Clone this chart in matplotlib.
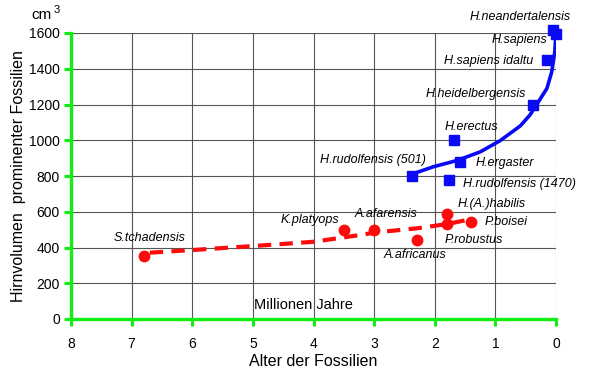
import numpy as np
import matplotlib.pyplot as plt

plt.rcParams['font.family'] = ['Liberation Sans', 'DejaVu Sans']

# ============================================
# DATA
# ============================================
homo_names = ["H.neandertalensis", "H.sapiens", "H.sapiens idaltu",
              "H.heidelbergensis", "H.erectus", "H.ergaster",
              "H.rudolfensis (501)", "H.rudolfensis (1470)"]
homo_age = [0.05, 0.0, 0.15, 0.38, 1.68, 1.58, 2.38, 1.77]
homo_vol = [1615, 1595, 1450, 1200, 1000, 880, 800, 775]

austr_names = ["S.tchadensis", "K.platyops", "A.afarensis", "A.africanus",
               "H.(A.)habilis", "P.robustus", "P.boisei"]
austr_age = [6.8, 3.5, 3.0, 2.3, 1.8, 1.8, 1.4]
austr_vol = [350, 500, 500, 440, 590, 530, 545]

# trend lines
homo_trend_age = [2.38, 2.02, 1.64, 1.25, 0.92, 0.59, 0.43, 0.29, 0.15,
                  0.07, 0.02, 0.0]
homo_trend_vol = [810, 852, 886, 935, 998, 1080, 1141, 1215, 1290,
                  1383, 1495, 1600]
austr_trend_age = [6.70, 5.99, 5.0, 4.0, 3.23, 2.96, 2.30, 1.80, 1.47]
austr_trend_vol = [371, 386, 408, 432, 470, 485, 507, 531, 554]

# label offsets (pixels) relative to the marker
homo_off = [(-33, 13), (-37, -6), (-58, -1), (-57, 10), (17, 13),
            (45, -1), (-39, 16), (71, -4)]
austr_off = [(6, 18), (-34, 10), (12, 16), (-2, -15), (45, 10),
             (27, -16), (35, 0)]

# ============================================
# PLOT
# ============================================
fig = plt.figure(figsize=(5.9, 3.79), dpi=100)
ax = fig.add_axes([71/590, 1-319/379, 485/590, 286/379])

green = "#11ee11"
blue = "#0a0af5"
red = "#ff0a0a"

ax.set_xlim(8, 0)
ax.set_ylim(0, 1600)
ax.set_xticks(np.arange(8, -1, -1))
ax.set_yticks(np.arange(0, 1601, 200))
ax.grid(True, color="#555555", linewidth=0.8)
ax.set_axisbelow(True)

for s in ["top", "right"]:
    ax.spines[s].set_visible(False)
for s in ["left", "bottom"]:
    ax.spines[s].set_color(green)
    ax.spines[s].set_linewidth(2.4)
    ax.spines[s].set_zorder(5)
ax.tick_params(color=green, width=2.2, length=5, labelsize=10, pad=3)
ax.tick_params(axis="x", pad=8)

# trend lines
ax.plot(homo_trend_age, homo_trend_vol, color=blue, linewidth=2.6,
        solid_capstyle="round", solid_joinstyle="round", zorder=3)
ax.plot(austr_trend_age, austr_trend_vol, color=red, linewidth=3,
        dashes=(3.2, 2), zorder=3)

ax.plot(homo_age, homo_vol, "s", color=blue, markersize=6.5,
        clip_on=False, zorder=4)
ax.plot(austr_age, austr_vol, "o", color=red, markersize=7.5,
        clip_on=False, zorder=4)

for n, x, y, off in zip(homo_names, homo_age, homo_vol, homo_off):
    ax.annotate(n, (x, y), xytext=off, textcoords="offset pixels",
                ha="center", va="center", fontsize=9, style="italic",
                annotation_clip=False, zorder=6)
for n, x, y, off in zip(austr_names, austr_age, austr_vol, austr_off):
    ax.annotate(n, (x, y), xytext=off, textcoords="offset pixels",
                ha="center", va="center", fontsize=9, style="italic",
                annotation_clip=False, zorder=6)

ax.text(4.17, 78, "Millionen Jahre", ha="center", va="center", fontsize=10.5)

ax.set_xlabel("Alter der Fossilien", fontsize=11.5, labelpad=2)
ax.set_ylabel("Hirnvolumen  prominenter Fossilien", fontsize=11.5, labelpad=2)
fig.text(42/590, 1-15/379, "cm", ha="center", va="center", fontsize=11)
fig.text(54/590, 1-10/379, "3", ha="left", va="center", fontsize=8)

fig.savefig("out.png", dpi=100)
